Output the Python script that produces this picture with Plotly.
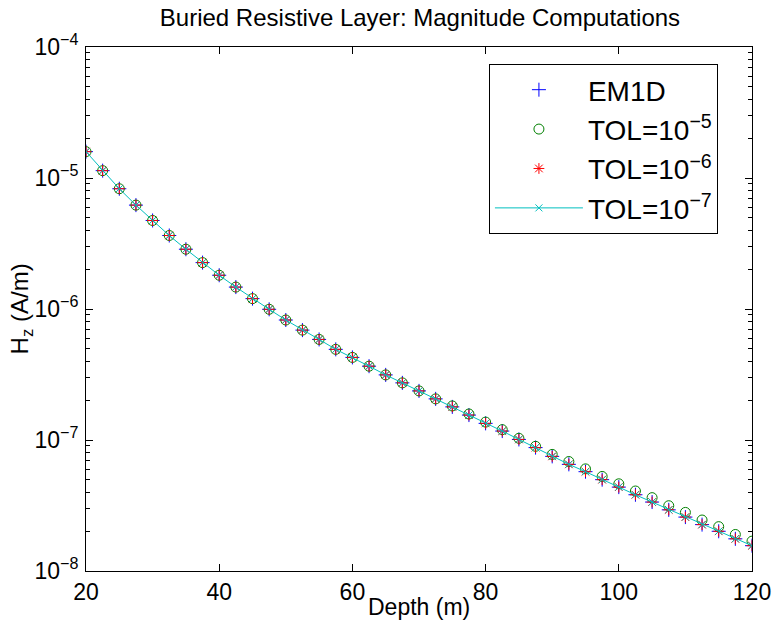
import plotly.graph_objects as go

depth = [20 + 2.5 * i for i in range(41)]

em1d = [1.589e-5, 1.138e-5, 8.28e-6, 6.21e-6, 4.74e-6, 3.64e-6, 2.86e-6, 2.26e-6,
        1.81e-6, 1.47e-6, 1.20e-6, 9.95e-7, 8.24e-7, 6.90e-7, 5.86e-7, 4.92e-7,
        4.27e-7, 3.66e-7, 3.14e-7, 2.73e-7, 2.37e-7, 2.06e-7, 1.79e-7, 1.55e-7,
        1.34e-7, 1.17e-7, 1.01e-7, 8.75e-8, 7.50e-8, 6.52e-8, 5.73e-8, 4.98e-8,
        4.37e-8, 3.82e-8, 3.36e-8, 2.93e-8, 2.58e-8, 2.26e-8, 2.01e-8, 1.76e-8,
        1.56e-8]

tol5 = [1.589e-5, 1.138e-5, 8.28e-6, 6.21e-6, 4.74e-6, 3.64e-6, 2.86e-6, 2.26e-6,
        1.81e-6, 1.47e-6, 1.20e-6, 9.95e-7, 8.24e-7, 6.90e-7, 5.86e-7, 4.92e-7,
        4.27e-7, 3.66e-7, 3.14e-7, 2.73e-7, 2.37e-7, 2.06e-7, 1.82e-7, 1.58e-7,
        1.37e-7, 1.20e-7, 1.03e-7, 8.95e-8, 7.76e-8, 6.85e-8, 6.02e-8, 5.27e-8,
        4.63e-8, 4.08e-8, 3.63e-8, 3.15e-8, 2.80e-8, 2.45e-8, 2.18e-8, 1.90e-8,
        1.69e-8]

tol6 = [1.589e-5, 1.138e-5, 8.28e-6, 6.21e-6, 4.74e-6, 3.64e-6, 2.86e-6, 2.26e-6,
        1.81e-6, 1.47e-6, 1.20e-6, 9.95e-7, 8.24e-7, 6.90e-7, 5.86e-7, 4.92e-7,
        4.27e-7, 3.66e-7, 3.14e-7, 2.73e-7, 2.37e-7, 2.06e-7, 1.79e-7, 1.55e-7,
        1.34e-7, 1.17e-7, 1.01e-7, 8.75e-8, 7.50e-8, 6.52e-8, 5.73e-8, 4.98e-8,
        4.37e-8, 3.82e-8, 3.36e-8, 2.93e-8, 2.58e-8, 2.26e-8, 2.01e-8, 1.76e-8,
        1.56e-8]

tol7 = [1.589e-5, 1.138e-5, 8.28e-6, 6.21e-6, 4.74e-6, 3.64e-6, 2.86e-6, 2.26e-6,
        1.81e-6, 1.47e-6, 1.20e-6, 9.95e-7, 8.24e-7, 6.90e-7, 5.86e-7, 4.92e-7,
        4.27e-7, 3.66e-7, 3.14e-7, 2.73e-7, 2.37e-7, 2.06e-7, 1.79e-7, 1.55e-7,
        1.34e-7, 1.17e-7, 1.01e-7, 8.75e-8, 7.50e-8, 6.52e-8, 5.73e-8, 4.98e-8,
        4.37e-8, 3.82e-8, 3.36e-8, 2.93e-8, 2.58e-8, 2.26e-8, 2.01e-8, 1.76e-8,
        1.56e-8]

names = ["EM1D", "TOL=10<sup>−5</sup>", "TOL=10<sup>−6</sup>", "TOL=10<sup>−7</sup>"]
x_ticks = [20, 40, 60, 80, 100, 120]
y_ticks = [1e-8, 1e-7, 1e-6, 1e-5, 1e-4]
y_ticktext = ["10<sup>−8</sup>", "10<sup>−7</sup>", "10<sup>−6</sup>",
              "10<sup>−5</sup>", "10<sup>−4</sup>"]

FONT = "Liberation Sans, Arial, Helvetica, sans-serif"

fig = go.Figure()
fig.add_trace(go.Scatter(
    x=depth, y=em1d, mode="markers", name=names[0],
    marker=dict(symbol="cross-thin", size=10, color="#0000ff",
                line=dict(width=1, color="#0000ff"))))
fig.add_trace(go.Scatter(
    x=depth, y=tol5, mode="markers", name=names[1],
    marker=dict(symbol="circle-open", size=10, color="#008000",
                line=dict(width=1, color="#008000"))))
fig.add_trace(go.Scatter(
    x=depth, y=tol6, mode="markers", name=names[2],
    marker=dict(symbol="asterisk-open", size=9, color="#ff0000",
                line=dict(width=1, color="#ff0000"))))
fig.add_trace(go.Scatter(
    x=depth, y=tol7, mode="lines+markers", name=names[3],
    line=dict(color="#00bfbf", width=1),
    marker=dict(symbol="x-thin", size=7, color="#00bfbf",
                line=dict(width=1, color="#00bfbf"))))

fig.update_layout(
    width=772, height=630,
    margin=dict(l=86, r=20, t=47, b=59, autoexpand=False),
    paper_bgcolor="white", plot_bgcolor="white",
    font=dict(family=FONT, size=23, color="black"),
    title=dict(text="Buried Resistive Layer: Magnitude Computations",
               x=0.544, xanchor="center", y=0.972, yanchor="middle",
               font=dict(family=FONT, size=24, color="black")),
    legend=dict(x=0.605, y=0.9676, xanchor="left", yanchor="top",
                bordercolor="black", borderwidth=1, bgcolor="white",
                font=dict(family=FONT, size=28, color="black"),
                itemwidth=88, tracegroupgap=0),
    showlegend=True,
    annotations=[
        dict(text="Depth (m)", xref="paper", yref="paper", x=0.5, y=-0.0687,
             xanchor="center", yanchor="middle", showarrow=False,
             font=dict(family=FONT, size=23, color="black")),
        dict(text="H<sub>z</sub> (A/m)", xref="paper", yref="paper", x=-0.097, y=0.5,
             xanchor="center", yanchor="middle", showarrow=False, textangle=-90,
             font=dict(family=FONT, size=24, color="black")),
    ],
)

fig.update_xaxes(
    range=[20, 120], tickvals=x_ticks, ticktext=[str(v) for v in x_ticks],
    ticks="inside", ticklen=7, tickwidth=1, tickcolor="black",
    showline=True, linecolor="black", linewidth=1, mirror="allticks",
    showgrid=False, zeroline=False, automargin=False,
    tickfont=dict(family=FONT, size=23),
)
fig.update_yaxes(
    type="log", range=[-8, -4], tickvals=y_ticks, ticktext=y_ticktext,
    ticks="inside", ticklen=7, tickwidth=1, tickcolor="black",
    minor=dict(ticks="inside", ticklen=4, tickcolor="black", showgrid=False, dtick="D1"),
    showline=True, linecolor="black", linewidth=1, mirror="allticks",
    showgrid=False, zeroline=False, automargin=False,
    tickfont=dict(family=FONT, size=23), ticklabelstandoff=2,
)

fig.write_html("out.html")
